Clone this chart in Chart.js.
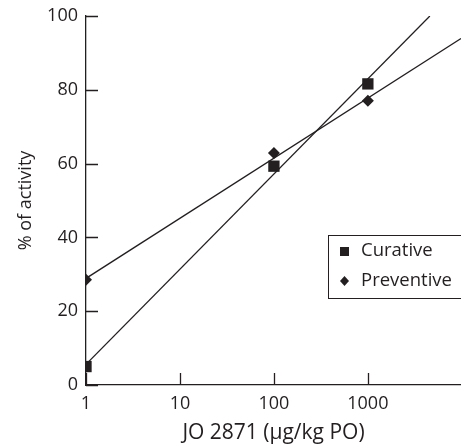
<!DOCTYPE html>
<html>
<head>
<meta charset="utf-8">
<script src="https://cdn.jsdelivr.net/npm/chart.js@4/dist/chart.umd.min.js"></script>
<style>
  body { margin: 0; background: #fff; }
  #wrap { width: 461px; height: 446px; }
</style>
</head>
<body>
<div id="wrap"><canvas id="grafica" width="461" height="446"></canvas></div>
<script>
// Datos
const dosis = [1, 100, 1000];
const curativo = [5, 59.3, 81.6];
const preventivo = [28.5, 62.9, 77];

// Rectas de ajuste (extremos)
const ajusteCurativoX = [1, 4570];
const ajusteCurativoY = [5.6, 100];
const ajustePreventivoX = [1, 9800];
const ajustePreventivoY = [28.9, 93.9];

const ticksX = [1, 10, 100, 1000];
const ticksY = [0, 20, 40, 60, 80, 100];
const xMaximo = 9800;

const tinta = '#231f20';
const fuente = '"Open Sans", sans-serif';

const puntos = (xs, ys) => xs.map((x, i) => ({ x: x, y: ys[i] }));

// Marcas hacia dentro y leyenda con recuadro
const pluginMarcas = {
    id: 'marcas',
    afterDraw(chart) {
        const ctx = chart.ctx;
        const sx = chart.scales.x, sy = chart.scales.y;
        const area = chart.chartArea;
        ctx.save();
        ctx.strokeStyle = tinta;
        ctx.lineWidth = 1.3;
        ctx.beginPath();
        ticksY.forEach(v => {
            const py = Math.round(sy.getPixelForValue(v)) + 0.5;
            ctx.moveTo(area.left, py);
            ctx.lineTo(area.left + 12, py);
        });
        ticksX.forEach(v => {
            const px = Math.round(sx.getPixelForValue(v)) + 0.5;
            ctx.moveTo(px, area.bottom);
            ctx.lineTo(px, area.bottom - 12);
        });
        ctx.stroke();

        // Leyenda
        ctx.lineWidth = 1;
        ctx.strokeRect(328.5, 235.5, 150, 63);
        ctx.fillStyle = tinta;
        ctx.fillRect(340, 247, 9, 9);
        ctx.beginPath();
        ctx.moveTo(344.5, 276);
        ctx.lineTo(349, 281);
        ctx.lineTo(344.5, 286);
        ctx.lineTo(340, 281);
        ctx.closePath();
        ctx.fill();
        ctx.font = '18.5px ' + fuente;
        ctx.textBaseline = 'middle';
        ctx.textAlign = 'left';
        ctx.fillText('Curative', 361, 251);
        ctx.fillText('Preventive', 361, 281);
        ctx.restore();
    }
};

new Chart(document.getElementById('grafica').getContext('2d'), {
    type: 'scatter',
    data: {
        datasets: [
            {
                label: 'Curative',
                data: puntos(dosis, curativo),
                pointStyle: 'rect',
                pointRadius: 8,
                pointBackgroundColor: tinta,
                pointBorderColor: tinta,
                pointBorderWidth: 0
            },
            {
                label: 'Preventive',
                data: puntos(dosis, preventivo),
                pointStyle: 'rectRot',
                pointRadius: 6,
                pointBackgroundColor: tinta,
                pointBorderColor: tinta,
                pointBorderWidth: 0
            },
            {
                label: 'ajuste curativo',
                data: puntos(ajusteCurativoX, ajusteCurativoY),
                showLine: true,
                pointRadius: 0,
                borderColor: tinta,
                borderWidth: 1.3
            },
            {
                label: 'ajuste preventivo',
                data: puntos(ajustePreventivoX, ajustePreventivoY),
                showLine: true,
                pointRadius: 0,
                borderColor: tinta,
                borderWidth: 1.3
            }
        ]
    },
    options: {
        responsive: false,
        animation: false,
        layout: { autoPadding: false, padding: { top: 16, left: 0, right: 0, bottom: 0 } },
        plugins: {
            legend: { display: false },
            tooltip: { enabled: false }
        },
        scales: {
            x: {
                type: 'logarithmic',
                min: 1,
                max: xMaximo,
                afterBuildTicks: (scale) => { scale.ticks = ticksX.map(v => ({ value: v })); },
                afterFit: (scale) => { scale.height = 61; scale.paddingRight = 0; scale.paddingLeft = 0; },
                grid: { display: false, drawTicks: false },
                border: { display: true, color: tinta, width: 1.3 },
                ticks: {
                    color: tinta,
                    padding: 8,
                    maxRotation: 0,
                    font: { size: 18, family: fuente },
                    callback: (v) => String(v)
                },
                title: {
                    display: true,
                    text: 'JO 2871 (μg/kg PO)',
                    color: tinta,
                    font: { size: 21, family: fuente },
                    padding: { top: 0, bottom: 0 }
                }
            },
            y: {
                min: 0,
                max: 100,
                afterBuildTicks: (scale) => { scale.ticks = ticksY.map(v => ({ value: v })); },
                afterFit: (scale) => { scale.width = 86; scale.paddingTop = 0; scale.paddingBottom = 0; },
                grid: { display: false, drawTicks: false },
                border: { display: true, color: tinta, width: 1.3 },
                ticks: {
                    color: tinta,
                    padding: 8,
                    font: { size: 18, family: fuente }
                },
                title: {
                    display: true,
                    text: '% of activity',
                    color: tinta,
                    font: { size: 18, family: fuente },
                    padding: { top: 15, bottom: 0 }
                }
            }
        }
    },
    plugins: [pluginMarcas]
});
</script>
</body>
</html>
